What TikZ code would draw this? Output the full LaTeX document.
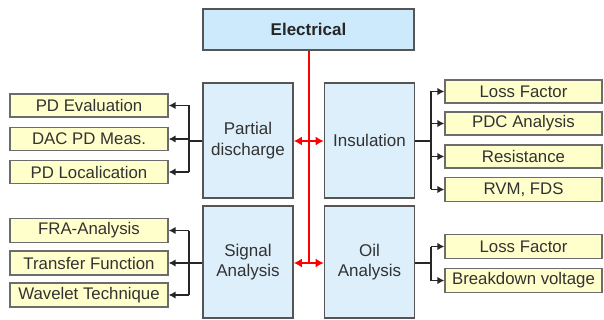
\documentclass[tikz,border=0pt]{standalone}
\usepackage{fontspec}
\setmainfont{Liberation Sans}
\usetikzlibrary{arrows.meta}
\definecolor{bluefill}{RGB}{220,239,251}
\definecolor{bluetop}{RGB}{204,234,252}
\definecolor{yelfill}{RGB}{255,255,204}
\definecolor{bordergray}{RGB}{85,85,85}
\definecolor{txtgray}{RGB}{50,50,50}
\begin{document}
\begin{tikzpicture}[x=1pt,y=-1pt,
  catbox/.style={draw=bordergray,line width=1.6pt,fill=bluefill,minimum width=90pt,minimum height=115pt,
    inner sep=0pt,align=center,font=\fontsize{17}{20.5}\selectfont,text=txtgray},
  topbox/.style={draw=bordergray,line width=1.6pt,fill=bluetop,minimum width=211pt,minimum height=41pt,
    inner sep=0pt,font=\fontsize{17}{20}\selectfont\bfseries,text=black!85},
  itembox/.style={draw=gray!85!black,line width=1.3pt,fill=yelfill,minimum width=158pt,minimum height=23pt,
    inner sep=0pt,font=\fontsize{16.8}{20}\selectfont,text=txtgray},
  conn/.style={draw=black!85,line width=1.4pt},
  arr/.style={conn,-{Latex[length=7pt,width=7.5pt]}},
  redl/.style={draw=red,line width=2pt},
  redarr/.style={redl,{Latex[length=8pt,width=9pt]}-{Latex[length=8pt,width=9pt]}}
]
\useasboundingbox (0,0) rectangle (604,320);
% main boxes
\node[topbox] (elec) at (308.5,29.5) {Electrical};
\node[catbox] (pd) at (248,140.5) {Partial\\discharge};
\node[catbox] (ins) at (369.5,140.5) {Insulation};
\node[catbox,minimum height=112pt] (sig) at (248,262) {Signal\\Analysis};
\node[catbox,minimum height=112pt] (oil) at (369.5,262) {Oil\\Analysis};
% left items
\node[itembox] (pde) at (89,105.5) {PD Evaluation};
\node[itembox] (dac) at (89,139) {DAC PD Meas.};
\node[itembox] (pdl) at (89,172) {PD Localication};
\node[itembox,minimum height=24pt] (fra) at (89,230.5) {FRA-Analysis};
\node[itembox,minimum height=24pt] (tf) at (89,263) {Transfer Function};
\node[itembox,minimum height=24pt] (wt) at (89,295) {Wavelet Technique};
% right items
\node[itembox,minimum width=157pt] (lf1) at (523.5,91.5) {Loss Factor};
\node[itembox,minimum width=157pt] (pdc) at (523.5,123.5) {PDC Analysis};
\node[itembox,minimum width=157pt] (res) at (523.5,156.5) {Resistance};
\node[itembox,minimum width=157pt,minimum height=24pt] (rvm) at (523.5,189.5) {RVM, FDS};
\node[itembox,minimum width=157pt,minimum height=24pt] (lf2) at (523.5,246.5) {Loss Factor};
\node[itembox,minimum width=157pt,minimum height=24pt] (bdv) at (523.5,280.5) {Breakdown voltage};
% junction coordinates
\coordinate (jl1) at (189,141);
\coordinate (jl2) at (189,263);
\coordinate (jr1) at (431,141);
\coordinate (jr2) at (431,263);
% left brackets
\draw[conn] (pd.west |- jl1) -- (jl1);
\draw[conn] (jl1 |- pde.east) -- (jl1 |- pdl.east);
\draw[arr] (jl1 |- pde.east) -- (pde.east);
\draw[arr] (jl1 |- dac.east) -- (dac.east);
\draw[arr] (jl1 |- pdl.east) -- (pdl.east);
\draw[conn] (sig.west |- jl2) -- (jl2);
\draw[conn] (jl2 |- fra.east) -- (jl2 |- wt.east);
\draw[arr] (jl2 |- fra.east) -- (fra.east);
\draw[arr] (jl2 |- tf.east) -- (tf.east);
\draw[arr] (jl2 |- wt.east) -- (wt.east);
% right brackets
\draw[conn] (ins.east |- jr1) -- (jr1);
\draw[conn] (jr1 |- lf1.west) -- (jr1 |- rvm.west);
\draw[arr] (jr1 |- lf1.west) -- (lf1.west);
\draw[arr] (jr1 |- pdc.west) -- (pdc.west);
\draw[arr] (jr1 |- res.west) -- (res.west);
\draw[arr] (jr1 |- rvm.west) -- (rvm.west);
\draw[conn] (oil.east |- jr2) -- (jr2);
\draw[conn] (jr2 |- lf2.west) -- (jr2 |- bdv.west);
\draw[arr] (jr2 |- lf2.west) -- (lf2.west);
\draw[arr] (jr2 |- bdv.west) -- (bdv.west);
% red connectors
\coordinate (rb) at (308.5,263);
\draw[redl] (elec.south) -- (rb);
\draw[redarr] (pd.east |- jl1) -- (ins.west |- jl1);
\draw[redarr] (sig.east |- rb) -- (oil.west |- rb);
\end{tikzpicture}
\end{document}
